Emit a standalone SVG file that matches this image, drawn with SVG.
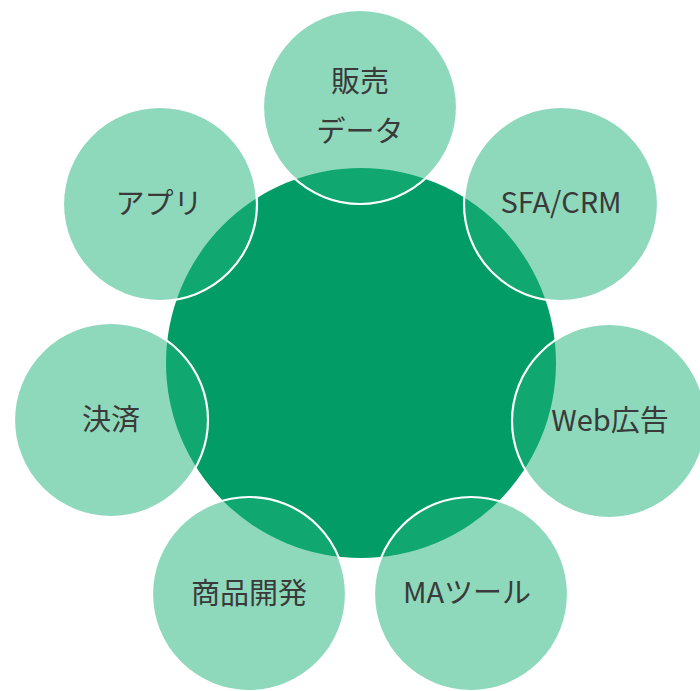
<svg xmlns="http://www.w3.org/2000/svg" width="700" height="691" viewBox="0 0 700 691">
<style>
.bg{fill:#ffffff}
.core{fill:#029c66}
.sat{fill:#1eb37a;fill-opacity:0.5;stroke:#ffffff;stroke-width:2.2}
.lbl{font-family:"Noto Sans CJK JP","Noto Sans",sans-serif;font-size:29px;fill:#3a3a3a;text-anchor:middle}
</style>
<rect class="bg" x="0" y="0" width="700" height="691"/>
<g id="core"><circle class="core" cx="361" cy="363" r="195"/></g>
<g id="connectors"></g>
<g id="n-sales"><circle class="sat" cx="360" cy="107" r="97"/><text class="lbl" x="360" y="92">販売</text><text class="lbl" x="360" y="142">データ</text></g>
<g id="n-sfa"><circle class="sat" cx="561" cy="204" r="97"/><text class="lbl" x="561" y="213">SFA/CRM</text></g>
<g id="n-web"><circle class="sat" cx="609" cy="421" r="97"/><text class="lbl" x="610" y="431">Web広告</text></g>
<g id="n-ma"><circle class="sat" cx="471" cy="594" r="97"/><text class="lbl" x="467" y="603">MAツール</text></g>
<g id="n-dev"><circle class="sat" cx="249" cy="594" r="97"/><text class="lbl" x="249" y="604">商品開発</text></g>
<g id="n-pay"><circle class="sat" cx="111" cy="420" r="97"/><text class="lbl" x="111" y="430">決済</text></g>
<g id="n-app"><circle class="sat" cx="160" cy="204" r="97"/><text class="lbl" x="159" y="214">アプリ</text></g>
</svg>
